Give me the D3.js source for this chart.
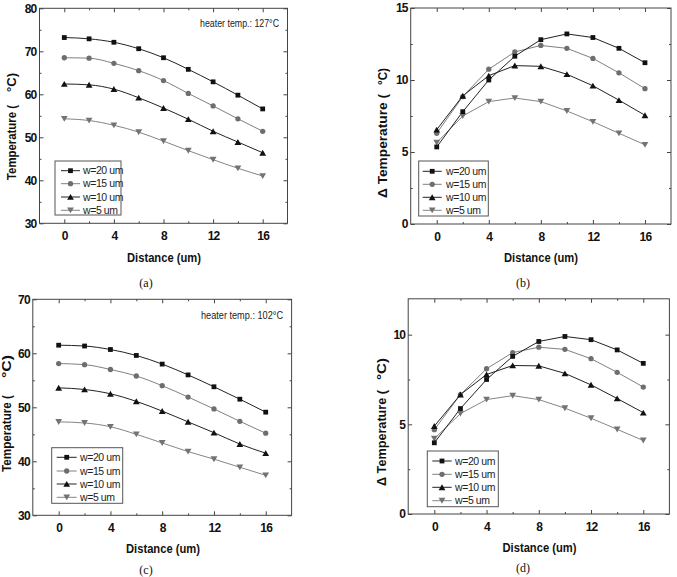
<!DOCTYPE html>
<html><head><meta charset="utf-8">
<script src="https://cdn.jsdelivr.net/npm/d3@7"></script>
<style>body{margin:0;background:#fff}svg{display:block}</style>
</head><body>
<svg id="chart" width="677" height="577"></svg>
<script>
// ---------- DATA ----------
const distance = [0, 2, 4, 6, 8, 10, 12, 14, 16];
const seriesLabels = ["w=20 um", "w=15 um", "w=10 um", "w=5 um"];
const xTickLabels = [0, 4, 8, 12, 16];
const xMinorTicks = [2, 6, 10, 14];

// (a) heater temp 127 C: temperature
const a_w20 = [73.2, 72.9, 72.1, 70.6, 68.5, 65.8, 62.9, 59.8, 56.6];
const a_w15 = [68.5, 68.4, 67.2, 65.5, 63.2, 60.2, 57.3, 54.3, 51.4];
const a_w10 = [62.4, 62.2, 61.2, 59.2, 56.8, 54.2, 51.4, 48.9, 46.4];
const a_w5  = [54.3, 53.9, 52.8, 51.2, 49.1, 46.9, 44.8, 42.8, 41.0];
const yTicksA = [30, 40, 50, 60, 70, 80];
const yMinorA = [35, 45, 55, 65, 75];

// (b) delta temperature
const b_w20 = [5.35, 7.8, 10.0, 11.65, 12.8, 13.2, 12.95, 12.2, 11.2];
const b_w15 = [6.3, 8.85, 10.75, 11.95, 12.4, 12.2, 11.5, 10.5, 9.4];
const b_w10 = [6.55, 8.9, 10.3, 11.0, 10.95, 10.4, 9.6, 8.6, 7.55];
const b_w5  = [5.65, 7.5, 8.5, 8.75, 8.5, 7.85, 7.1, 6.3, 5.5];
const yTicksB = [0, 5, 10, 15];
const yMinorB = [2.5, 7.5, 12.5];

// (c) heater temp 102 C: temperature
const c_w20 = [61.5, 61.35, 60.7, 59.6, 58.0, 56.0, 53.8, 51.5, 49.1];
const c_w15 = [58.1, 57.9, 57.0, 55.8, 54.0, 51.9, 49.7, 47.4, 45.2];
const c_w10 = [53.6, 53.3, 52.5, 51.1, 49.3, 47.3, 45.3, 43.2, 41.5];
const c_w5  = [47.3, 47.1, 46.4, 45.0, 43.4, 41.8, 40.4, 38.9, 37.4];
const yTicksC = [30, 40, 50, 60, 70];
const yMinorC = [35, 45, 55, 65];

// (d) delta temperature
const d_w20 = [3.97, 5.88, 7.5, 8.79, 9.62, 9.9, 9.72, 9.15, 8.4];
const d_w15 = [4.7, 6.66, 8.1, 9.0, 9.3, 9.18, 8.66, 7.9, 7.08];
const d_w10 = [4.9, 6.66, 7.78, 8.28, 8.26, 7.84, 7.2, 6.44, 5.65];
const d_w5  = [4.2, 5.6, 6.38, 6.6, 6.38, 5.9, 5.34, 4.72, 4.1];
const yTicksD = [0, 5, 10];
const yMinorD = [2.5, 7.5];

// ---------- STYLE ----------
const seriesStyle = [
  {symbol: d3.symbolSquare, size: 23, rot: 0, fill: "#111", line: "#222"},
  {symbol: d3.symbolCircle, size: 22, rot: 0, fill: "#6e6e6e", line: "#808080"},
  {symbol: d3.symbolTriangle, size: 20, rot: 0, fill: "#111", line: "#222"},
  {symbol: d3.symbolTriangle, size: 20, rot: 180, fill: "#737373", line: "#858585"}
];

const svg = d3.select("#chart");
svg.append("rect").attr("width", 677).attr("height", 577).attr("fill", "#fff");

const panels = [
  {series: [a_w20, a_w15, a_w10, a_w5], yDom: [30, 80], yTicks: yTicksA, yMinor: yMinorA,
   x0: 39.5, x1: 287.5, yTop: 8.3, yBot: 223.3, smooth: true,
   heater: {x: 200, y: 27, len: 79, t: "127"},
   legend: {x0: 55, x1: 121, y0: 161, y1: 215, rows: [170.7, 183.7, 197, 210.3], lx0: 61, lx1: 80, tx: 83},
   xl: {x: 164, y: 262}, tag: {t: "(a)", x: 146, y: 287},
   yl: {bx: 16, s1: 180, l1: 75, t1: "Temperature (", s2: 92, l2: 19}},
  {series: [b_w20, b_w15, b_w10, b_w5], yDom: [0, 15], yTicks: yTicksB, yMinor: yMinorB,
   x0: 410.7, x1: 671, yTop: 8, yBot: 224, smooth: false,
   legend: {x0: 418.7, x1: 488.3, y0: 161, y1: 216, rows: [171.3, 184.3, 197.3, 210.3], lx0: 422.7, lx1: 441.7, tx: 446},
   xl: {x: 541, y: 262}, tag: {t: "(b)", x: 523, y: 287},
   yl: {bx: 387, s1: 198, l1: 104, t1: "\u0394 Temperature (", s2: 85, l2: 17}},
  {series: [c_w20, c_w15, c_w10, c_w5], yDom: [30, 70], yTicks: yTicksC, yMinor: yMinorC,
   x0: 32.8, x1: 291.6, yTop: 299.3, yBot: 515.3, smooth: true,
   heater: {x: 201, y: 319, len: 82, t: "102"},
   legend: {x0: 51.7, x1: 122.7, y0: 447.7, y1: 503.3, rows: [457.3, 471, 484, 497.3], lx0: 56.7, lx1: 76.7, tx: 80},
   xl: {x: 163, y: 553}, tag: {t: "(c)", x: 146, y: 574},
   yl: {bx: 11, s1: 472, l1: 77, t1: "Temperature (", s2: 378, l2: 23}},
  {series: [d_w20, d_w15, d_w10, d_w5], yDom: [0, 12], yTicks: yTicksD, yMinor: yMinorD,
   x0: 408.2, x1: 669.4, yTop: 298.8, yBot: 514, smooth: false,
   legend: {x0: 427.3, x1: 498.3, y0: 451, y1: 506.7, rows: [461, 474.3, 487.3, 500.7], lx0: 432.3, lx1: 451.7, tx: 455},
   xl: {x: 539.5, y: 552}, tag: {t: "(d)", x: 523, y: 572},
   yl: {bx: 386, s1: 486, l1: 96, t1: "\u0394 Temperature (", s2: 380, l2: 22}}
];

const FONT = "'Liberation Sans', Arial, sans-serif";

function symPath(st) {
  return d3.symbol().type(st.symbol).size(st.size)();
}
function symOffset(st) {
  return st.symbol === d3.symbolTriangle ? (st.rot ? -0.9 : 0.9) : 0;
}

panels.forEach(p => {
  const g = svg.append("g");
  const x = d3.scaleLinear().domain([-2, 18]).range([p.x0, p.x1]);
  const y = d3.scaleLinear().domain(p.yDom).range([p.yBot, p.yTop]);

  // axes: major and minor ticks on all four sides, pointing inward
  const axes = [
    {ax: d3.axisBottom(x), tr: `translate(0,${p.yBot})`, major: xTickLabels, minor: xMinorTicks, labels: true},
    {ax: d3.axisTop(x), tr: `translate(0,${p.yTop})`, major: xTickLabels, minor: xMinorTicks, labels: false},
    {ax: d3.axisLeft(y), tr: `translate(${p.x0},0)`, major: p.yTicks, minor: p.yMinor, labels: true},
    {ax: d3.axisRight(y), tr: `translate(${p.x1},0)`, major: p.yTicks, minor: p.yMinor, labels: false}
  ];
  axes.forEach((a, i) => {
    const isX = i < 2;
    const gm = g.append("g").attr("transform", a.tr)
      .call(a.ax.tickValues(a.major).tickSize(-4).tickPadding(isX ? 8 : 3).tickFormat(a.labels ? d3.format("d") : () => ""));
    gm.select(".domain").remove();
    gm.selectAll("line").attr("stroke", "#444");
    gm.selectAll("text").attr("font-family", FONT).attr("font-weight", "bold")
      .attr("font-size", 12).attr("fill", "#111").attr("letter-spacing", "-0.8");
    const gn = g.append("g").attr("transform", a.tr)
      .call(a.ax.tickValues(a.minor).tickSize(-2).tickFormat(() => ""));
    gn.select(".domain").remove();
    gn.selectAll("line").attr("stroke", "#444");
  });

  // frame
  g.append("rect").attr("x", p.x0).attr("y", p.yTop)
    .attr("width", p.x1 - p.x0).attr("height", p.yBot - p.yTop)
    .attr("fill", "none").attr("stroke", "#444").attr("stroke-width", 1);

  // series lines (grey first)
  const line = d3.line().x((d, i) => x(distance[i])).y(d => y(d))
    .curve(p.smooth ? d3.curveMonotoneX : d3.curveLinear);
  [3, 1, 2, 0].forEach(si => {
    const st = seriesStyle[si];
    g.append("path").attr("d", line(p.series[si])).attr("fill", "none")
      .attr("stroke", st.line).attr("stroke-width", 1);
  });
  [3, 1, 2, 0].forEach(si => {
    const st = seriesStyle[si];
    g.append("g").selectAll("path").data(p.series[si]).join("path")
      .attr("d", symPath(st))
      .attr("transform", (d, i) => `translate(${x(distance[i])},${y(d) + symOffset(st)}) rotate(${st.rot})`)
      .attr("fill", st.fill);
  });

  // legend
  const L = p.legend;
  g.append("rect").attr("x", L.x0).attr("y", L.y0).attr("width", L.x1 - L.x0).attr("height", L.y1 - L.y0)
    .attr("fill", "#fff").attr("stroke", "#555").attr("stroke-width", 1);
  seriesLabels.forEach((lab, si) => {
    const st = seriesStyle[si];
    const yy = L.rows[si];
    g.append("line").attr("x1", L.lx0).attr("x2", L.lx1).attr("y1", yy).attr("y2", yy)
      .attr("stroke", st.line).attr("stroke-width", 1);
    g.append("path").attr("d", symPath(st))
      .attr("transform", `translate(${(L.lx0 + L.lx1) / 2},${yy + symOffset(st)}) rotate(${st.rot})`)
      .attr("fill", st.fill);
    g.append("text").attr("x", L.tx).attr("y", yy + 3.6).text(lab)
      .attr("font-family", FONT).attr("font-size", 10.5).attr("fill", "#222")
      .attr("letter-spacing", "-0.4");
  });

  // heater text
  if (p.heater) {
    const H = p.heater;
    g.append("text").attr("x", H.x).attr("y", H.y)
      .attr("font-family", FONT).attr("font-size", 10).attr("fill", "#222")
      .attr("textLength", H.len).attr("lengthAdjust", "spacingAndGlyphs")
      .text("heater temp.: " + H.t + "\u00B0C");
  }

  // x label
  g.append("text").attr("x", p.xl.x).attr("y", p.xl.y).attr("text-anchor", "middle")
    .attr("font-family", FONT).attr("font-weight", "bold").attr("font-size", 13)
    .attr("fill", "#111").attr("textLength", 74).attr("lengthAdjust", "spacingAndGlyphs")
    .text("Distance (um)");

  // y label (two pieces)
  const Y = p.yl;
  g.append("text").attr("transform", `translate(${Y.bx},${Y.s1}) rotate(-90)`)
    .attr("font-family", FONT).attr("font-weight", "bold").attr("font-size", 13)
    .attr("fill", "#111").attr("textLength", Y.l1).attr("lengthAdjust", "spacingAndGlyphs")
    .text(Y.t1);
  g.append("text").attr("transform", `translate(${Y.bx},${Y.s2}) rotate(-90)`)
    .attr("font-family", FONT).attr("font-weight", "bold").attr("font-size", 13)
    .attr("fill", "#111").attr("textLength", Y.l2).attr("lengthAdjust", "spacingAndGlyphs")
    .text("\u00B0C)");

  // panel tag
  g.append("text").attr("x", p.tag.x).attr("y", p.tag.y).attr("text-anchor", "middle")
    .attr("font-family", "'Liberation Serif', 'Times New Roman', serif").attr("font-size", 12)
    .attr("fill", "#111").text(p.tag.t);
});
</script>
</body></html>
